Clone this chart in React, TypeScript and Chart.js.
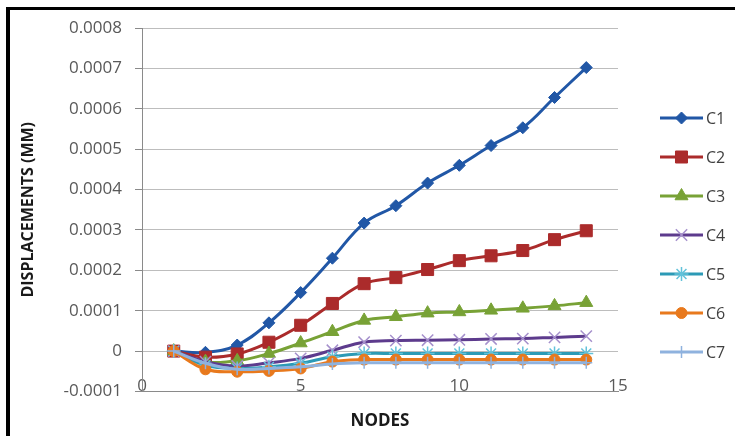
import React, { useEffect, useRef } from 'react';
import { Chart, registerables } from 'chart.js';
import { drawPoint } from 'chart.js/helpers';

Chart.register(...registerables);

// Node numbers along the beam
const nodes = [1, 2, 3, 4, 5, 6, 7, 8, 9, 10, 11, 12, 13, 14];

// Displacement (mm) per node for each case
const c1 = [0, -0.000003, 0.000015, 0.00007, 0.000145, 0.00023, 0.000317, 0.00036, 0.000416, 0.00046, 0.000509, 0.000553, 0.000628, 0.000702];
const c2 = [0, -0.000015, -0.000007, 0.000022, 0.000064, 0.000118, 0.000167, 0.000182, 0.000202, 0.000224, 0.000236, 0.000249, 0.000276, 0.000298];
const c3 = [0, -0.000026, -0.000024, -0.000006, 0.00002, 0.000048, 0.000076, 0.000085, 0.000094, 0.000097, 0.000101, 0.000106, 0.000112, 0.00012];
const c4 = [0, -0.000026, -0.000037, -0.000029, -0.000018, 0.000002, 0.000022, 0.000026, 0.000027, 0.000028, 0.00003, 0.000031, 0.000034, 0.000037];
const c5 = [0, -0.000035, -0.000043, -0.000039, -0.00003, -0.000014, -0.000006, -0.000006, -0.000006, -0.000006, -0.000006, -0.000006, -0.000006, -0.000006];
const c6 = [0, -0.000045, -0.000051, -0.000049, -0.000043, -0.000026, -0.000021, -0.000021, -0.000021, -0.000021, -0.000021, -0.000021, -0.000021, -0.000021];
const c7 = [0, -0.00003, -0.000045, -0.000043, -0.000039, -0.000032, -0.000029, -0.000029, -0.000029, -0.000029, -0.000029, -0.000029, -0.000029, -0.000029];

const seriesNames = ['C1', 'C2', 'C3', 'C4', 'C5', 'C6', 'C7'];
const seriesValues = [c1, c2, c3, c4, c5, c6, c7];

// Axis ranges
const xMin = 0;
const xMax = 15;
const xStep = 5;
const yMin = -0.0001;
const yMax = 0.0008;
const yStep = 0.0001;

type SeriesStyle = {
  line: string;
  marker: string;
  pointStyle: string;
  radius: number;
  markerBorder: number;
};

const styles: SeriesStyle[] = [
  { line: '#2157a6', marker: '#2157a6', pointStyle: 'rectRot', radius: 6, markerBorder: 1 },
  { line: '#ab2b2b', marker: '#ab2b2b', pointStyle: 'rect', radius: 8.5, markerBorder: 1 },
  { line: '#78a236', marker: '#78a236', pointStyle: 'triangle', radius: 7.5, markerBorder: 1 },
  { line: '#5d3b8d', marker: '#a590cc', pointStyle: 'crossRot', radius: 8, markerBorder: 1.5 },
  { line: '#2c9ab6', marker: '#62c2da', pointStyle: 'star', radius: 7, markerBorder: 1.5 },
  { line: '#e8791d', marker: '#e8791d', pointStyle: 'circle', radius: 5.5, markerBorder: 1 },
  { line: '#8fb2de', marker: '#8fb2de', pointStyle: 'cross', radius: 6, markerBorder: 1.5 },
];

const FONT = '"Open Sans", "Noto Sans", sans-serif';

// Legend drawn as line + marker samples stacked to the right of the plot
const lineLegend = {
  id: 'lineLegend',
  afterDraw(chart: any) {
    const { ctx, chartArea } = chart;
    const datasets = chart.data.datasets;
    const n = datasets.length;
    const gap = 39;
    const x0 = chartArea.right + 42;
    const mid = chart.height / 2 + 17;
    datasets.forEach((ds: any, i: number) => {
      const y = mid + (i - (n - 1) / 2) * gap;
      ctx.save();
      ctx.strokeStyle = ds.borderColor;
      ctx.lineWidth = ds.borderWidth;
      ctx.beginPath();
      ctx.moveTo(x0, y);
      ctx.lineTo(x0 + 43, y);
      ctx.stroke();
      ctx.fillStyle = ds.pointBackgroundColor;
      ctx.strokeStyle = ds.pointBorderColor;
      ctx.lineWidth = ds.pointBorderWidth;
      drawPoint(
        ctx,
        { pointStyle: ds.pointStyle, radius: ds.pointRadius, rotation: 0, borderWidth: ds.pointBorderWidth },
        x0 + 21.5,
        y
      );
      ctx.fillStyle = '#404040';
      ctx.font = `16px ${FONT}`;
      ctx.textBaseline = 'middle';
      ctx.textAlign = 'left';
      ctx.fillText(ds.label, x0 + 46, y + 1);
      ctx.restore();
    });
  },
};

export default function App() {
  const canvasRef = useRef<HTMLCanvasElement | null>(null);

  useEffect(() => {
    if (!canvasRef.current) return;
    Chart.defaults.font.family = FONT;

    const datasets = seriesNames.map((name, i) => {
      const st = styles[i];
      return {
        label: name,
        data: nodes.map((x, k) => ({ x, y: seriesValues[i][k] })),
        borderColor: st.line,
        backgroundColor: st.marker,
        borderWidth: 3,
        pointStyle: st.pointStyle,
        pointRadius: st.radius,
        pointBackgroundColor: st.marker,
        pointBorderColor: st.marker,
        pointBorderWidth: st.markerBorder,
        tension: 0.4,
        order: seriesNames.length - i,
      };
    });

    const chart = new Chart(canvasRef.current, {
      type: 'line',
      data: { datasets },
      plugins: [lineLegend],
      options: {
        animation: false,
        responsive: true,
        maintainAspectRatio: false,
        layout: { padding: { left: 10, top: 28, right: 117, bottom: 0 } },
        plugins: {
          legend: { display: false },
          tooltip: { enabled: false },
        },
        scales: {
          x: {
            type: 'linear',
            min: xMin,
            max: xMax,
            ticks: {
              stepSize: xStep,
              color: '#595959',
              font: { size: 17 },
              mirror: true,
              padding: -5,
              maxRotation: 0,
            },
            grid: { display: false, drawTicks: false },
            border: { display: true, color: '#8a8a8a', width: 1 },
            title: {
              display: true,
              text: 'NODES',
              color: '#1a1a1a',
              font: { size: 17, weight: 'bold' },
              padding: { top: 0, bottom: 5 },
            },
            afterFit: (scale: any) => {
              scale.height = 44.5;
            },
          },
          y: {
            type: 'linear',
            min: yMin,
            max: yMax,
            ticks: {
              stepSize: yStep,
              color: '#595959',
              font: { size: 17 },
              padding: 13,
              callback: (v: any) => Number(Number(v).toFixed(4)).toString(),
            },
            grid: {
              color: '#bdbdbd',
              lineWidth: 1,
              tickLength: 7,
              tickColor: '#8a8a8a',
            },
            border: { display: true, color: '#8a8a8a', width: 1 },
            title: {
              display: true,
              text: 'DISPLACEMENTS (MM)',
              color: '#1a1a1a',
              font: { size: 16, weight: 'bold' },
              padding: { top: 9, bottom: 0 },
            },
            afterFit: (scale: any) => {
              scale.width = 132;
            },
          },
        },
      },
    });

    return () => chart.destroy();
  }, []);

  return (
    <div style={{ position: 'fixed', left: 0, top: 0, width: 735, height: 436, background: '#fff' }}>
      <canvas ref={canvasRef} />
      <div
        style={{
          position: 'absolute',
          left: 6,
          top: 7,
          right: 0,
          bottom: -10,
          borderTop: '3px solid #000',
          borderLeft: '4px solid #000',
          pointerEvents: 'none',
        }}
      />
    </div>
  );
}
